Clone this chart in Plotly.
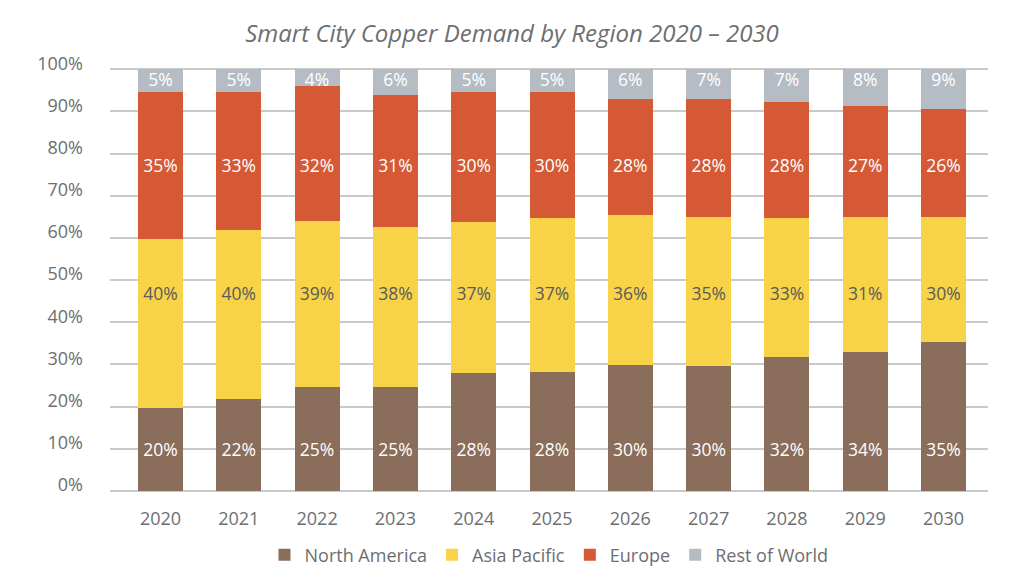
import plotly.graph_objects as go

years = ["2020", "2021", "2022", "2023", "2024", "2025", "2026", "2027", "2028", "2029", "2030"]

# segment sizes as drawn (percent)
north_america = [19.7, 21.7, 24.6, 24.6, 28.0, 28.1, 29.8, 29.6, 31.8, 32.9, 35.3]
asia_pacific = [40.1, 40.1, 39.4, 38.0, 35.9, 36.7, 35.6, 35.4, 33.0, 32.1, 29.7]
europe = [34.9, 32.7, 32.1, 31.3, 30.6, 29.7, 27.5, 28.0, 27.4, 26.3, 25.6]
rest_of_world = [5.3, 5.5, 3.9, 6.1, 5.5, 5.5, 7.1, 7.0, 7.8, 8.7, 9.4]

# printed labels
na_labels = ["20%", "22%", "25%", "25%", "28%", "28%", "30%", "30%", "32%", "34%", "35%"]
ap_labels = ["40%", "40%", "39%", "38%", "37%", "37%", "36%", "35%", "33%", "31%", "30%"]
eu_labels = ["35%", "33%", "32%", "31%", "30%", "30%", "28%", "28%", "28%", "27%", "26%"]
row_labels = ["5%", "5%", "4%", "6%", "5%", "5%", "6%", "7%", "7%", "8%", "9%"]

y_ticks = [0, 10, 20, 30, 40, 50, 60, 70, 80, 90, 100]
y_tick_text = [f"{v}%" for v in y_ticks]

FONT = "Open Sans"
GRAY = "#6d6e71"
series = [
    ("North America", north_america, na_labels, "#8a6d5b", "white", 9.4),
    ("Asia Pacific", asia_pacific, ap_labels, "#f8d347", "#5b5b5b", 46.3),
    ("Europe", europe, eu_labels, "#d45934", "white", 76.6),
    ("Rest of World", rest_of_world, row_labels, "#b5bcc3", "white", 97.1),
]

fig = go.Figure()
for name, vals, labels, color, tcolor, label_y in series:
    fig.add_trace(go.Bar(
        x=years, y=vals, name=name,
        marker=dict(color=color, line=dict(width=0)),
        hoverinfo="skip",
    ))
for name, vals, labels, color, tcolor, label_y in series:
    fig.add_trace(go.Scatter(
        x=years, y=[label_y] * len(years), mode="text", text=labels,
        textfont=dict(family=FONT, size=17.5, color=tcolor),
        showlegend=False, hoverinfo="skip",
    ))

fig.update_layout(
    barmode="stack",
    bargap=0.425,
    width=1024, height=573,
    margin=dict(l=110, r=36, t=68, b=82, autoexpand=False),
    paper_bgcolor="white", plot_bgcolor="white",
    font=dict(family=FONT, color=GRAY, size=18),
    title=dict(
        text="<i>Smart City Copper Demand by Region 2020 – 2030</i>",
        x=0.5, xanchor="center", y=0.942, yanchor="middle",
        font=dict(family=FONT, size=24, color=GRAY),
    ),
    xaxis=dict(
        type="category", range=[-0.645, 10.568], automargin=False,
        showgrid=False, showline=False, zeroline=False,
        ticks="", ticklabelstandoff=15,
        tickfont=dict(size=18, color=GRAY),
    ),
    yaxis=dict(
        range=[0, 100.3], tickvals=y_ticks, ticktext=y_tick_text,
        automargin=False,
        showgrid=True, gridcolor="#c9c9c9", gridwidth=1.5,
        zeroline=True, zerolinecolor="#c9c9c9", zerolinewidth=1.5,
        ticks="", ticklabelstandoff=26, ticklabelshift=-6,
        tickfont=dict(size=18, color=GRAY),
    ),
    legend=dict(
        orientation="h", x=0.5, xanchor="center",
        yref="container", y=1 - 555 / 573, yanchor="middle",
        font=dict(size=18, color=GRAY), traceorder="normal",
    ),
)

fig.write_html(
    "out.html",
    config={"displayModeBar": False},
    post_script="document.body.style.margin='0px';document.body.style.overflow='hidden';",
)
